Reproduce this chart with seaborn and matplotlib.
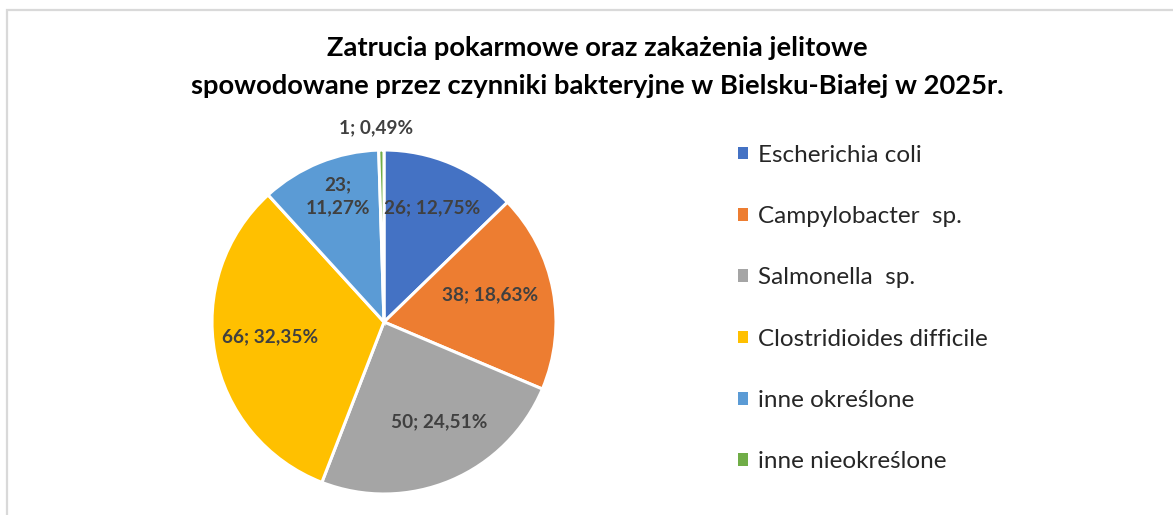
import numpy as np
import matplotlib
matplotlib.use('Agg')
import matplotlib.pyplot as plt
import matplotlib.patches as mpatches
import seaborn as sns

# dane
categories = ['Escherichia coli', 'Campylobacter  sp.', 'Salmonella  sp.',
              'Clostridioides difficile', 'inne określone', 'inne nieokreślone']
counts = [26, 38, 50, 66, 23, 1]
percents = ['12,75%', '18,63%', '24,51%', '32,35%', '11,27%', '0,49%']
title_lines = ['Zatrucia pokarmowe oraz zakażenia jelitowe',
               'spowodowane przez czynniki bakteryjne w Bielsku-Białej w 2025r.']

colors = ['#4472C4', '#ED7D31', '#A5A5A5', '#FFC000', '#5B9BD5', '#70AD47']

sns.set_theme(style='white')
plt.rcParams['font.family'] = ['Lato', 'DejaVu Sans']

W, H = 1173, 515
fig = plt.figure(figsize=(W / 100, H / 100), dpi=100)

# obramowanie wykresu
fig.patches.append(mpatches.Rectangle((7 / W, -0.2), 1.5, 1 - 9.5 / H + 0.2,
                                      transform=fig.transFigure, fill=False,
                                      edgecolor='#d9d9d9', linewidth=1.6))

# tytul
fig.text(597 / W, 1 - 48 / H, title_lines[0], ha='center', va='center',
         fontsize=19.7, fontweight='bold', color='black')
fig.text(597 / W, 1 - 86 / H, title_lines[1], ha='center', va='center',
         fontsize=19.7, fontweight='bold', color='black')

# wykres kolowy
cx, cy, r = 384, 322, 172
ax = fig.add_axes([(cx - r) / W, (H - cy - r) / H, 2 * r / W, 2 * r / H])
wedges, _ = ax.pie(counts, colors=colors, startangle=90, counterclock=False,
                   radius=1, wedgeprops=dict(edgecolor='white', linewidth=2.2))
ax.set_xlim(-1, 1)
ax.set_ylim(-1, 1)
ax.set_aspect('equal')
ax.axis('off')

# etykiety danych
dist = [0.72, 0.64, 0.66, 0.67, 0.78, 1.13]
shift = [0, 4, 6, -3, -2, 1.5]
for i, w in enumerate(wedges):
    ang = np.deg2rad((w.theta1 + w.theta2) / 2 + shift[i])
    x, y = dist[i] * np.cos(ang), dist[i] * np.sin(ang)
    if i == 4:
        txt = f'{counts[i]};\n{percents[i]}'
    else:
        txt = f'{counts[i]}; {percents[i]}'
    ax.text(x, y, txt, ha='center', va='center', fontsize=13.7,
            fontweight='bold', color='#404040', linespacing=1.45, clip_on=False)

# legenda
handles = [mpatches.Patch(facecolor=c, edgecolor='none') for c in colors]
fig.legend(handles, categories, loc='center left',
           bbox_to_anchor=(738 / W, 1 - 308.5 / H), frameon=False,
           fontsize=17.5, labelspacing=1.66, handlelength=0.43, handleheight=0.43,
           handletextpad=0.4, borderpad=0, borderaxespad=0)

fig.savefig('out.png', dpi=100, facecolor='white')
